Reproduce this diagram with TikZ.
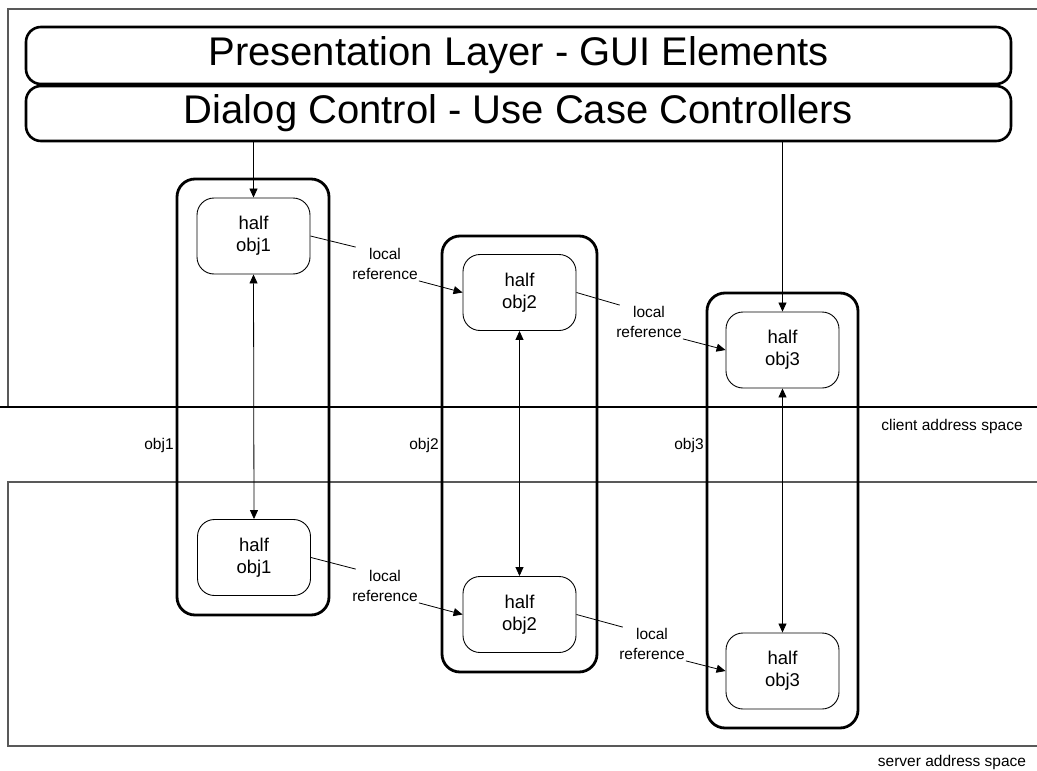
\documentclass[tikz,border=0pt]{standalone}
\usepackage{fontspec}
\setmainfont{Liberation Sans}
\usetikzlibrary{arrows.meta}
\begin{document}
\begin{tikzpicture}[x=1pt,y=-1pt,
  layerbox/.style={draw,line width=2.6pt,rounded corners=15pt,minimum width=985pt,inner sep=0pt,font=\fontsize{40}{40}\selectfont},
  outerbox/.style={draw,line width=2.8pt,rounded corners=18pt,inner sep=0pt},
  halfbox/.style={draw,line width=0.9pt,rounded corners=17pt,minimum width=113pt,minimum height=76pt,inner sep=0pt,align=center,font=\fontsize{18.5}{22}\selectfont},
  lbl/.style={inner sep=1pt,align=center,font=\fontsize{15.5}{20}\selectfont},
  conn/.style={line width=0.8pt},
  arr/.style={line width=0.8pt,-{Triangle[length=9pt,width=8pt]}},
  darr/.style={line width=0.8pt,{Triangle[length=9pt,width=8pt]}-{Triangle[length=9pt,width=8pt]}},
  region/.style={draw=black!65,line width=1.3pt}]
\useasboundingbox (0,0) rectangle (1037,771);
% address space regions
\draw[region] (1050,9) -- (8,9) -- (8,407);
\draw[line width=1.2pt] (0,407) -- (1050,407);
\draw[region] (1050,482) -- (8,482) -- (8,746) -- (1050,746);
% layers
\node[layerbox,minimum height=57pt] (pres) at (518.5,55.5) {Presentation Layer - GUI Elements};
\node[layerbox,minimum height=55pt] (dial) at (518.5,113.5) {Dialog Control - Use Case Controllers};
% outer object boxes
\node[outerbox,minimum width=152pt,minimum height=436pt] (o1) at (253,397) {};
\node[outerbox,minimum width=155pt,minimum height=436pt] (o2) at (519.5,454) {};
\node[outerbox,minimum width=151pt,minimum height=435pt] (o3) at (782.5,510.5) {};
% half objects
\node[halfbox] (t1) at (253.5,236) {half\\obj1};
\node[halfbox] (b1) at (254,557.5) {half\\obj1};
\node[halfbox] (t2) at (519.5,292.5) {half\\obj2};
\node[halfbox] (b2) at (519.5,614.5) {half\\obj2};
\node[halfbox] (t3) at (782.5,350) {half\\obj3};
\node[halfbox] (b3) at (782.5,671) {half\\obj3};
% labels
\node[lbl] (lr1) at (385,264) {local\\reference};
\node[lbl] (lr2) at (649,322) {local\\reference};
\node[lbl] (lr3) at (385,586) {local\\reference};
\node[lbl] (lr4) at (652,644) {local\\reference};
\node[lbl] (s1) at (159,445) {obj1};
\node[lbl] (s2) at (424,445) {obj2};
\node[lbl] (s3) at (689,445) {obj3};
\node[lbl] (cas) at (952,426) {client address space};
\node[lbl] (sas) at (952,762) {server address space};
% connectors
\draw[arr] (dial.south -| t1.north) -- (t1.north);
\draw[arr] (dial.south -| t3.north) -- (t3.north);
\draw[darr] (t1.south) -- (b1.north);
\draw[darr] (t2.south) -- (b2.north);
\draw[darr] (t3.south) -- (b3.north);
\draw[conn] (t1.east) -- (lr1.150);
\draw[arr] (lr1.south east) -- (t2.west);
\draw[conn] (t2.east) -- (lr2.150);
\draw[arr] (lr2.south east) -- (t3.west);
\draw[conn] (b1.east) -- (lr3.150);
\draw[arr] (lr3.south east) -- (b2.west);
\draw[conn] (b2.east) -- (lr4.150);
\draw[arr] (lr4.south east) -- (b3.west);
\end{tikzpicture}
\end{document}
